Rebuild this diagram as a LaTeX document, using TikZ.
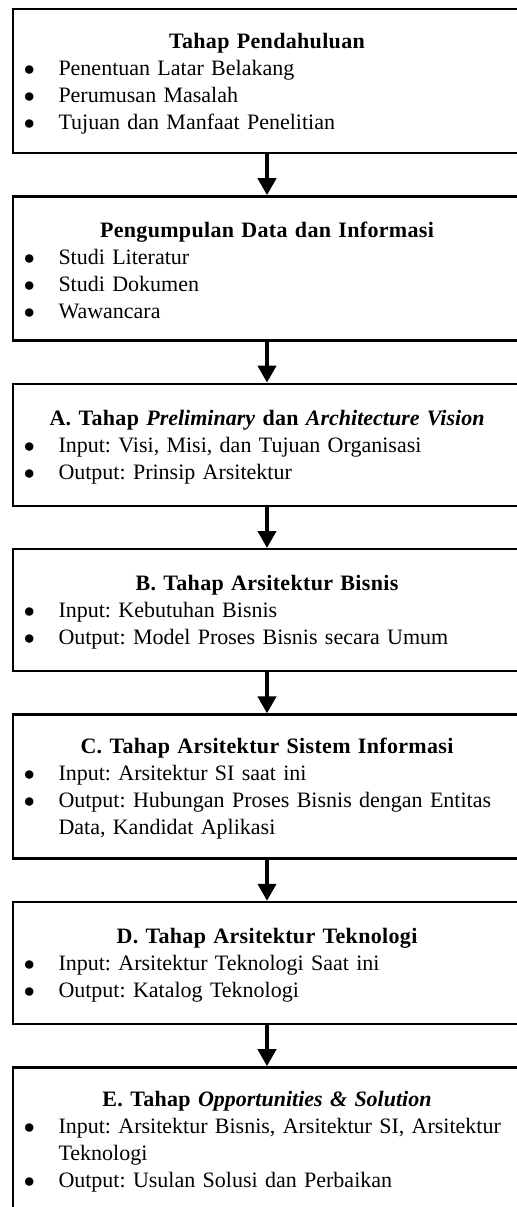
\documentclass[tikz,border=0pt]{standalone}
\usepackage{fontspec}
\setmainfont[BoldFeatures={LetterSpace=1.5}]{Liberation Serif}
\usetikzlibrary{arrows.meta, positioning}
\newcommand{\itm}[1]{\par\noindent\makebox[17.25pt][l]{$\bullet$}#1}
\newcommand{\cnt}[1]{\par\noindent\hspace*{17.25pt}#1}
\newcommand{\ttl}[1]{{\centering\bfseries\rule{0pt}{10pt}#1\par}}
\begin{document}
\begin{tikzpicture}[
  node distance=20.5pt,
  box/.style={rectangle, draw=black, line width=1.2pt,
              text width=243pt, inner xsep=5.5pt, inner ysep=6pt,
              minimum height=61pt, align=left,
              font=\fontsize{11}{13.5}\selectfont\frenchspacing},
  tall/.style={minimum height=72pt},
  arr/.style={-{Triangle[width=9pt, length=8.5pt]}, line width=2pt, color=black}
]
\path[use as bounding box] (0,0) rectangle (258.5pt,-603.5pt);
\clip (0,0) rectangle (258.5pt,-603.5pt);
\node[box, tall, anchor=north] (pre) at (133.5pt,-3.9pt)
  {\ttl{Tahap Pendahuluan}\itm{Penentuan Latar Belakang}\itm{Perumusan Masalah}\itm{Tujuan dan Manfaat Penelitian}};
\node[box, tall, below=of pre] (data)
  {\ttl{Pengumpulan Data dan Informasi}\itm{Studi Literatur}\itm{Studi Dokumen}\itm{Wawancara}};
\node[box, below=of data] (prelim)
  {\ttl{A. Tahap \textit{Preliminary} dan \textit{Architecture Vision}}\itm{Input: Visi, Misi, dan Tujuan Organisasi}\itm{Output: Prinsip Arsitektur}};
\node[box, below=of prelim] (bisnis)
  {\ttl{B. Tahap Arsitektur Bisnis}\itm{Input: Kebutuhan Bisnis}\itm{Output: Model Proses Bisnis secara Umum}};
\node[box, tall, below=of bisnis] (sisinfo)
  {\ttl{C. Tahap Arsitektur Sistem Informasi}\itm{Input: Arsitektur SI saat ini}\itm{Output: Hubungan Proses Bisnis dengan Entitas}\cnt{Data, Kandidat Aplikasi}};
\node[box, below=of sisinfo] (tekno)
  {\ttl{D. Tahap Arsitektur Teknologi}\itm{Input: Arsitektur Teknologi Saat ini}\itm{Output: Katalog Teknologi}};
\node[box, tall, below=of tekno] (solusi)
  {\ttl{E. Tahap \textit{Opportunities \& Solution}}\itm{Input: Arsitektur Bisnis, Arsitektur SI, Arsitektur}\cnt{Teknologi}\itm{Output: Usulan Solusi dan Perbaikan}};

\draw[arr] (pre)--(data); \draw[arr] (data)--(prelim); \draw[arr] (prelim)--(bisnis);
\draw[arr] (bisnis)--(sisinfo); \draw[arr] (sisinfo)--(tekno); \draw[arr] (tekno)--(solusi);
\end{tikzpicture}
\end{document}
